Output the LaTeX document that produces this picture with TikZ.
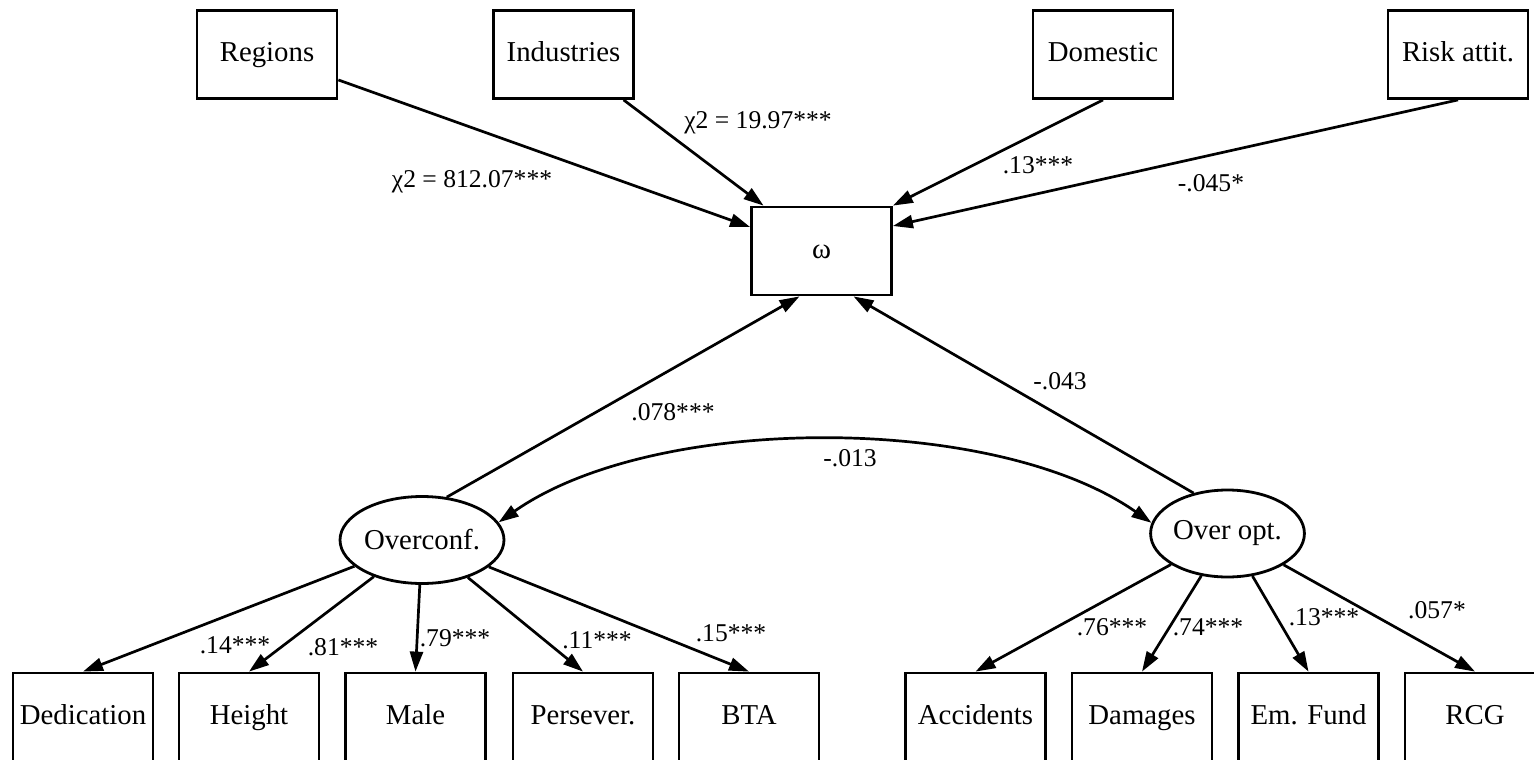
\documentclass[tikz,border=0pt]{standalone}
\usepackage{fontspec}
\setmainfont{Liberation Serif}
\newfontfamily\tms{Liberation Serif}
\usetikzlibrary{arrows.meta,shapes.geometric}

\tikzset{
    obs/.style={draw, line width=1.4pt, minimum width=70pt, minimum height=44pt, inner sep=0pt, text height=10pt, text depth=3pt, font=\tms\fontsize{14.4}{17}\selectfont},
    lat/.style={draw, ellipse, line width=1.4pt, minimum width=70pt, minimum height=43.5pt, inner sep=0pt, font=\tms\fontsize{14.4}{17}\selectfont},
    lbl/.style={inner sep=0pt, font=\tms\fontsize{12.8}{15}\selectfont}
}

\begin{document}
\begin{tikzpicture}[x=0.5pt, y=0.5pt, line width=1.35pt, >={Triangle[length=10pt,width=6.5pt]}]
    \useasboundingbox (0,0) rectangle (1534,-759);

    % top row
    \foreach \x/\y/\z in {267/Regions/reg, 563.5/Industries/ind, 1103/Domestic/dom, 1458/Risk attit./risk}
    \node[obs] (\z) at (\x,-54.5) {\y};
    \node[obs] (omega) at (821.5,-251) {ω};

    % latent variables
    \node[lat] (oc) at (422,-540) {Overconf.};
    \node[lat] (oo) at (1227.5,-533.5) {Over opt.};

    % bottom row
    \foreach \x/\y/\z in {83/Dedication/ded, 249/Height/hei, 415.5/Male/mal, 583/Persever./per, 749/BTA/bta,
        975.5/Accidents/acc, 1142/Damages/dam, 1308.5/Em. Fund/emf, 1475/RCG/rcg}
    \node[obs] (\z) at (\x,-717) {\y};

    \draw[->] (reg) -- ([yshift=12pt]omega.west);
    \draw[->] (ind) -- ([xshift=-29pt]omega.north);
    \draw[->] (dom.south) -- (omega.north east);
    \draw[->] (risk.south) -- ([yshift=12.5pt]omega.east);
    \draw[->] (oc.60) -- ([xshift=-11pt]omega.south);
    \draw[->] (oo.130) -- ([xshift=16pt]omega.south);
    \draw[<->] (oc.13) to[out=35, in=145, looseness=0.75] (oo.172);

    \foreach \z in {ded,hei,mal,per,bta} % loadings of Overconf.
    \draw[->] (oc) -- (\z.north);
    \foreach \z in {acc,dam,emf,rcg} % loadings of Over opt.
    \draw[->] (oo) -- (\z.north);

    % coefficients
    \foreach \x/\y/\t/\z in {
        472/-182/χ2 = 812.07***/la,
        758/-123/χ2 = 19.97***/lb,
        1038/-165/.13***/lc,
        1211/-183/-.045*/ld,
        673/-412/.078***/le,
        1060/-381/-.043/lf,
        850/-458/-.013/lg,
        235/-645/.14***/lh,
        343/-647/.81***/li,
        455/-638/.79***/lj,
        597/-640/.11***/lk,
        731/-633/.15***/ll,
        1112/-627/.76***/lm,
        1208/-627/.74***/ln,
        1324/-617/.13***/lo,
        1437/-610/.057*/lp}
    \node[lbl] (\z) at (\x,\y) {\t};
\end{tikzpicture}
\end{document}
